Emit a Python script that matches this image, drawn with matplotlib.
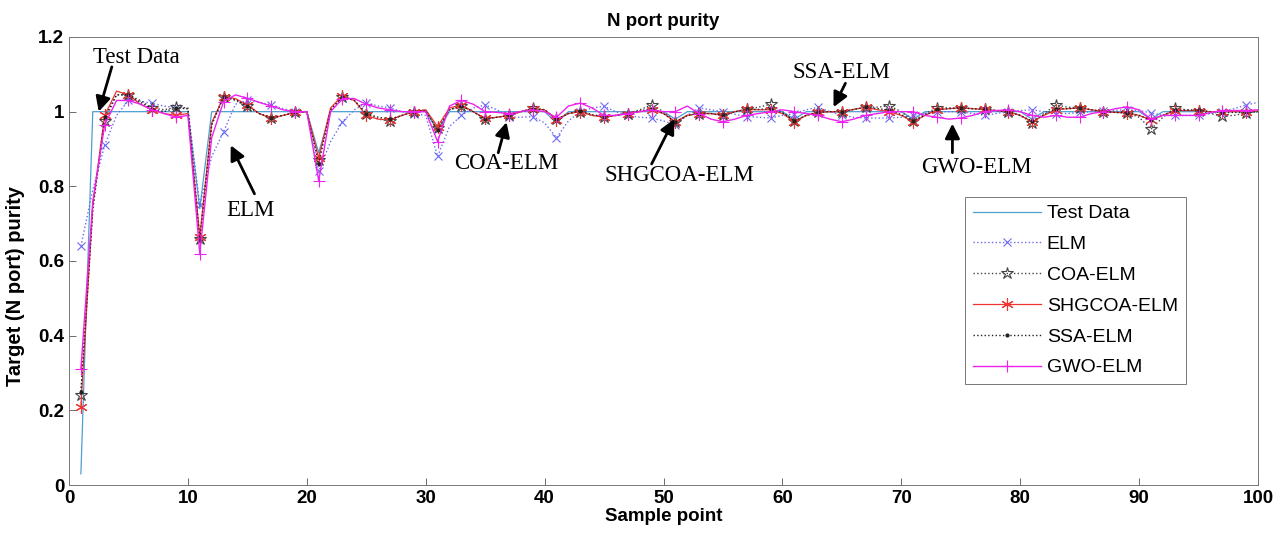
import numpy as np
import matplotlib
matplotlib.use("Agg")
import matplotlib.pyplot as plt

# ── data (sample points 1..100) ─────────────────────────────────────
sample = np.arange(1, 101)

test_data = [
    0.03, 1.0, 1.0, 1.0, 1.0, 1.0, 1.0, 1.0, 1.0, 1.0,
    0.74, 1.0, 1.0, 1.0, 1.0, 1.0, 1.0, 1.0, 1.0, 1.0,
    0.89, 1.0, 1.0, 1.0, 1.0, 1.0, 1.0, 1.0, 1.0, 1.0,
    0.95, 1.0, 1.0, 1.0, 1.0, 1.0, 1.0, 1.0, 1.0, 1.0,
    0.97, 1.0, 1.0, 1.0, 1.0, 1.0, 1.0, 1.0, 1.0, 1.0,
    0.98, 1.0, 1.0, 1.0, 1.0, 1.0, 1.0, 1.0, 1.0, 1.0,
    0.98, 1.0, 1.0, 1.0, 1.0, 1.0, 1.0, 1.0, 1.0, 1.0,
    0.98, 1.0, 1.0, 1.0, 1.0, 1.0, 1.0, 1.0, 1.0, 1.0,
    0.98, 1.0, 1.0, 1.0, 1.0, 1.0, 1.0, 1.0, 1.0, 1.0,
    0.98, 1.0, 1.0, 1.0, 1.0, 1.0, 1.0, 1.0, 1.0, 1.0,
]

elm = [
    0.64, 0.79, 0.91, 0.99, 1.03, 1.028, 1.022, 1.015, 1.01, 1.008,
    0.75, 0.88, 0.946, 1.02, 1.03, 1.025, 1.018, 1.008, 1.0, 1.0,
    0.84, 0.92, 0.973, 1.005, 1.024, 1.015, 1.01, 1.0, 0.995, 0.99,
    0.88, 0.96, 0.99, 1.01, 1.018, 1.005, 0.985, 0.985, 0.987, 0.97,
    0.93, 0.975, 1.0, 1.01, 1.014, 1.0, 0.99, 0.985, 0.983, 0.975,
    0.965, 0.99, 1.01, 1.005, 1.0, 0.993, 0.987, 0.985, 0.983, 0.99,
    0.995, 1.005, 1.012, 1.0, 0.99, 0.985, 0.983, 0.983, 0.983, 0.985,
    0.99, 0.995, 1.0, 1.0, 1.0, 0.995, 0.99, 0.995, 1.0, 1.003,
    1.005, 1.0, 0.995, 0.995, 0.998, 1.0, 1.002, 1.004, 1.005, 1.003,
    0.997, 0.99, 0.99, 0.99, 0.99, 0.995, 1.0, 1.008, 1.018, 1.025,
]

coa_elm = [
    0.24, 0.74, 0.975, 1.045, 1.045, 1.03, 1.01, 1.005, 1.012, 1.01,
    0.66, 0.965, 1.04, 1.03, 1.015, 0.995, 0.982, 0.99, 0.998, 1.0,
    0.87, 1.005, 1.04, 1.03, 0.995, 0.98, 0.975, 0.99, 1.0, 1.005,
    0.955, 1.005, 1.015, 1.0, 0.98, 0.985, 0.99, 1.0, 1.01, 1.005,
    0.98, 0.995, 1.0, 0.99, 0.985, 0.99, 0.995, 1.005, 1.018, 1.0,
    0.972, 0.99, 0.995, 0.995, 0.99, 1.0, 1.006, 1.012, 1.02, 1.0,
    0.975, 0.99, 1.0, 1.0, 1.0, 1.006, 1.012, 1.012, 1.016, 1.0,
    0.975, 0.995, 1.01, 1.01, 1.01, 1.008, 1.006, 1.003, 1.0, 0.99,
    0.97, 0.995, 1.018, 1.012, 1.01, 1.005, 1.0, 0.998, 0.997, 0.985,
    0.953, 0.985, 1.01, 1.005, 1.003, 0.995, 0.988, 0.99, 0.997, 1.0,
]

shgcoa_elm = [
    0.21, 0.75, 0.99, 1.055, 1.045, 1.02, 1.005, 0.995, 0.99, 0.995,
    0.665, 0.97, 1.04, 1.035, 1.018, 0.995, 0.982, 0.99, 0.998, 1.0,
    0.876, 1.01, 1.043, 1.03, 0.99, 0.98, 0.978, 0.99, 1.0, 1.005,
    0.96, 1.01, 1.018, 1.0, 0.982, 0.985, 0.99, 1.0, 1.008, 1.005,
    0.978, 0.995, 1.0, 0.99, 0.985, 0.99, 0.995, 1.0, 1.005, 0.995,
    0.973, 0.99, 0.995, 0.995, 0.99, 1.0, 1.006, 1.005, 1.005, 0.995,
    0.973, 0.99, 0.998, 1.0, 1.0, 1.006, 1.012, 1.005, 1.0, 0.99,
    0.973, 0.99, 1.005, 1.008, 1.01, 1.008, 1.006, 1.003, 1.0, 0.99,
    0.973, 0.99, 1.005, 1.008, 1.01, 1.005, 1.0, 0.998, 0.997, 0.99,
    0.978, 0.99, 1.003, 1.003, 1.003, 1.0, 1.0, 1.0, 1.0, 1.002,
]

ssa_elm = [
    0.25, 0.74, 0.985, 1.045, 1.045, 1.025, 1.008, 1.0, 1.01, 1.008,
    0.655, 0.965, 1.04, 1.032, 1.016, 0.995, 0.984, 0.99, 0.998, 1.0,
    0.86, 1.005, 1.04, 1.03, 0.995, 0.985, 0.98, 0.99, 1.0, 1.003,
    0.95, 1.005, 1.015, 1.0, 0.98, 0.985, 0.99, 1.0, 1.008, 1.005,
    0.98, 0.995, 1.002, 0.992, 0.987, 0.99, 0.995, 1.002, 1.008, 0.995,
    0.972, 0.99, 0.995, 0.995, 0.99, 1.0, 1.006, 1.006, 1.008, 0.997,
    0.975, 0.99, 0.998, 1.0, 1.0, 1.006, 1.012, 1.008, 1.005, 0.992,
    0.975, 0.99, 1.006, 1.008, 1.01, 1.008, 1.006, 1.003, 1.0, 0.99,
    0.975, 0.992, 1.008, 1.008, 1.01, 1.005, 1.0, 0.998, 0.997, 0.99,
    0.977, 0.99, 1.004, 1.004, 1.004, 1.0, 0.998, 0.998, 0.998, 1.0,
]

gwo_elm = [
    0.31, 0.76, 0.965, 1.03, 1.03, 1.02, 1.005, 0.995, 0.985, 0.99,
    0.62, 0.93, 1.027, 1.045, 1.036, 1.025, 1.015, 1.005, 1.0, 1.0,
    0.815, 1.0, 1.035, 1.035, 1.02, 1.01, 1.005, 1.0, 1.0, 1.0,
    0.92, 1.015, 1.03, 1.02, 1.0, 0.998, 0.995, 1.0, 1.005, 1.0,
    0.985, 1.015, 1.023, 1.01, 0.99, 0.99, 0.995, 1.0, 1.005, 1.0,
    1.0, 1.015, 0.995, 0.98, 0.973, 0.98, 0.99, 0.995, 1.0, 1.005,
    1.0, 0.995, 0.99, 0.98, 0.973, 0.98, 0.99, 0.995, 1.0, 1.0,
    1.0, 0.99, 0.985, 0.98, 0.983, 0.99, 1.0, 1.003, 1.005, 1.0,
    0.99, 0.985, 0.99, 0.985, 0.985, 0.995, 1.0, 1.008, 1.013, 1.005,
    0.98, 0.99, 0.99, 0.99, 0.99, 0.998, 1.003, 1.003, 1.003, 1.005,
]

x_ticks = [0, 10, 20, 30, 40, 50, 60, 70, 80, 90, 100]
y_ticks = [0, 0.2, 0.4, 0.6, 0.8, 1.0, 1.2]
y_tick_labels = ["0", "0.2", "0.4", "0.6", "0.8", "1", "1.2"]

# (label, text xy, arrow tail xy, arrow head xy) in data units
notes = [
    ("Test Data", (5.7, 1.145), (3.6, 1.12), (2.5, 1.0)),
    ("ELM", (15.3, 0.735), (15.6, 0.78), (13.6, 0.91)),
    ("COA-ELM", (36.8, 0.86), (36.1, 0.89), (36.8, 0.972)),
    ("SHGCOA-ELM", (51.3, 0.83), (49.0, 0.86), (50.9, 0.98)),
    ("SSA-ELM", (65.0, 1.106), (65.3, 1.076), (64.3, 1.012)),
    ("GWO-ELM", (76.3, 0.85), (74.3, 0.89), (74.3, 0.968)),
]

# ── plot ─────────────────────────────────────────────────────────────
plt.rcParams["font.family"] = ["Liberation Sans", "DejaVu Sans"]

fig = plt.figure(figsize=(12.87, 5.46), dpi=100)
ax = fig.add_axes([69 / 1287, 1 - 485 / 546, (1258 - 69) / 1287, (485 - 37) / 546])

every = slice(0, None, 2)
ax.plot(sample, test_data, color="#4d9fd1", lw=0.9, label="Test Data")
ax.plot(sample, elm, color="#6a6af0", lw=1.0, ls=":", marker="x", ms=6,
        mew=0.8, markevery=every, label="ELM")
ax.plot(sample, coa_elm, color="#444444", lw=1.0, ls=":", marker="*", ms=9,
        mfc="none", mew=0.8, markevery=every, label="COA-ELM")
ax.plot(sample, shgcoa_elm, color="#ee3333", lw=0.9, marker=(6, 2, 0), ms=9,
        mew=0.8, markevery=every, label="SHGCOA-ELM")
ax.plot(sample, ssa_elm, color="#222222", lw=1.0, ls=":", marker=".", ms=4,
        markevery=every, label="SSA-ELM")
ax.plot(sample, gwo_elm, color="#ee22ee", lw=1.0, marker="+", ms=9,
        mew=0.8, markevery=every, label="GWO-ELM")

for text, txy, tail, head in notes:
    ax.text(txy[0], txy[1], text, family=["Liberation Serif", "DejaVu Serif"],
            fontsize=16.5, ha="center", va="center")
    ax.annotate("", xy=head, xytext=tail,
                arrowprops=dict(arrowstyle="-|>", color="k", lw=2,
                                mutation_scale=22, shrinkA=0, shrinkB=0))

ax.set_xlim(0, 100)
ax.set_ylim(0, 1.2)
ax.set_xticks(x_ticks)
ax.set_yticks(y_ticks)
ax.set_yticklabels(y_tick_labels)
ax.tick_params(direction="in", length=5, width=0.6, colors="#555555",
               labelcolor="k", labelsize=13.5)
for lab in ax.get_xticklabels() + ax.get_yticklabels():
    lab.set_fontweight("bold")
for sp in ax.spines.values():
    sp.set_color("#777777")
    sp.set_linewidth(0.7)

ax.set_xlabel("Sample point", fontsize=13.5, fontweight="bold", labelpad=1)
ax.set_ylabel("Target (N port) purity", fontsize=14.5, fontweight="bold")
ax.yaxis.set_label_coords(-0.037, 0.444)
ax.set_title("N port purity", fontsize=13.5, fontweight="bold", pad=8)

leg = ax.legend(loc="upper left", bbox_to_anchor=(0.7536, 0.643), fontsize=14,
                handlelength=3.5, labelspacing=0.68, borderpad=0.4,
                handletextpad=0.3, fancybox=False, framealpha=1,
                edgecolor="#777777", borderaxespad=0)
leg.get_frame().set_linewidth(0.7)

fig.savefig("out.png", dpi=100)
